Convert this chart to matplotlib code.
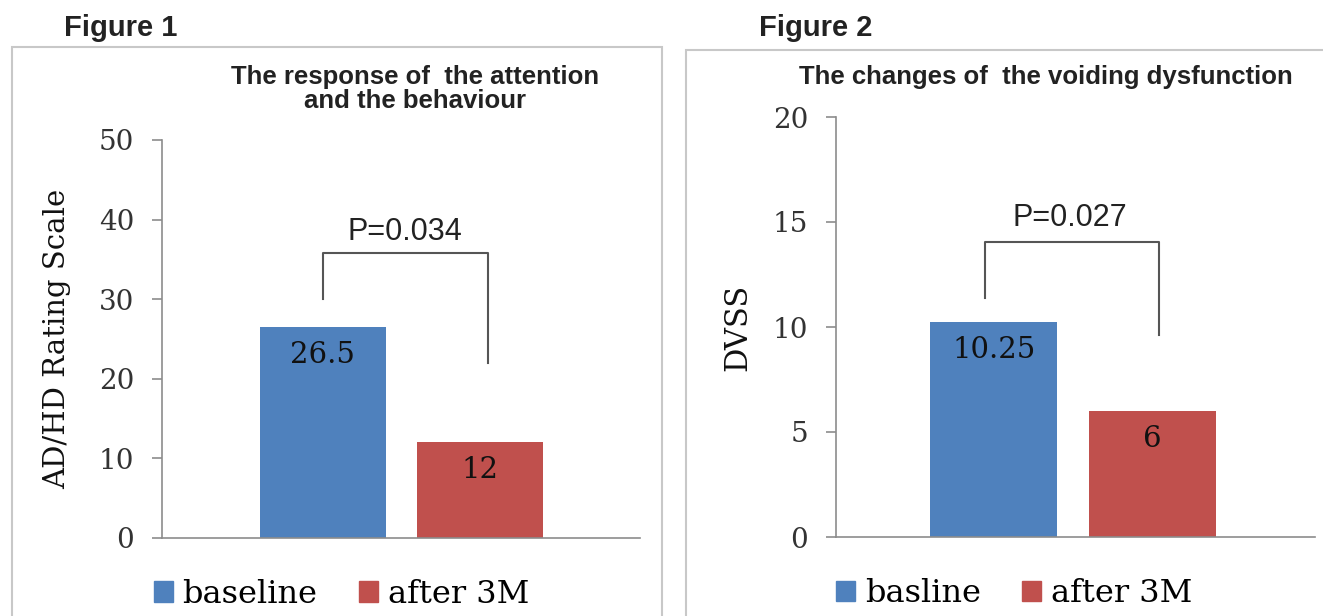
import matplotlib.pyplot as plt
from matplotlib.patches import Rectangle, Patch

# data
groups1 = ["baseline", "after 3M"]
values1 = [26.5, 12]
labels1 = ["26.5", "12"]
groups2 = ["basline", "after 3M"]
values2 = [10.25, 6]
labels2 = ["10.25", "6"]
p1 = "P=0.034"
p2 = "P=0.027"

blue = "#4f81bd"
red = "#c0504d"
gray = "#8c8c8c"
serif = "DejaVu Serif"
sans = "Liberation Sans"

fig = plt.figure(figsize=(13.23, 6.16), dpi=100)
W, H = 1323, 616


def fx(px):
    return px / W


def fy(py):
    return 1 - py / H


# panel frames
fig.patches.append(Rectangle((fx(12), fy(640)), fx(650), fy(47) - fy(640),
                             transform=fig.transFigure, fill=False,
                             edgecolor="#c8c8c8", lw=1.5))
fig.patches.append(Rectangle((fx(686), fy(640)), fx(660), fy(50) - fy(640),
                             transform=fig.transFigure, fill=False,
                             edgecolor="#c8c8c8", lw=1.5))

fig.text(fx(64), fy(28), "Figure 1", family=sans, weight="bold", fontsize=21,
         va="center", color="#222222")
fig.text(fx(759), fy(28), "Figure 2", family=sans, weight="bold", fontsize=21,
         va="center", color="#222222")


def panel(rect, values, labels, groups, ymax, step, xlim, ylabel, ylabel_x,
          ylabel_size, title, title_xy, bracket, ptxt, pxy, leg_x):
    ax = fig.add_axes(rect)
    bars = ax.bar([0, 1], values, width=0.8, color=[blue, red], zorder=2)
    ax.set_xlim(*xlim)
    ax.set_ylim(0, ymax)
    ax.set_yticks(range(0, ymax + 1, step))
    ax.set_xticks([])
    for s in ["top", "right"]:
        ax.spines[s].set_visible(False)
    for s in ["left", "bottom"]:
        ax.spines[s].set_color(gray)
        ax.spines[s].set_linewidth(1.2)
    ax.tick_params(axis="y", colors=gray, length=7, width=1.2, pad=13)
    for t in ax.get_yticklabels():
        t.set_color("#333333")
        t.set_family(serif)
        t.set_fontsize(20)
    for b, lab in zip(bars, labels):
        ax.annotate(lab, (b.get_x() + b.get_width() / 2, b.get_height()),
                    xytext=(0, -20), textcoords="offset points",
                    ha="center", va="center", family=serif, fontsize=21,
                    color="#111111")
    xl, xr, y_l, y_top, y_r = bracket
    ax.plot([xl, xl, xr, xr], [y_l, y_top, y_top, y_r], color="#555555",
            lw=1.5, zorder=3)
    ax.text(pxy[0], pxy[1], ptxt, ha="center", va="center", family=sans,
            fontsize=22, color="#222222")
    ax.set_ylabel(ylabel, family=serif, fontsize=ylabel_size, color="#111111")
    ax.yaxis.set_label_coords(ylabel_x, 0.5)
    fig.text(title_xy[0], title_xy[1], title, ha="center", va="center",
             family=sans, weight="bold", fontsize=18.5, color="#222222",
             linespacing=0.95)
    handles = [Patch(color=blue), Patch(color=red)]
    ax.legend(handles, groups, loc="upper center", ncol=2, frameon=False,
              bbox_to_anchor=(leg_x, -0.03), prop={"family": serif, "size": 23},
              handlelength=0.6, handleheight=0.6, handletextpad=0.3,
              columnspacing=1.3)
    return ax


panel([fx(162), fy(538), fx(478), fy(140) - fy(538)], values1, labels1,
      groups1, 50, 10, (-1.022, 2.016), "AD/HD Rating Scale", -0.19, 21,
      "The response of  the attention\nand the behaviour", (fx(415), fy(89)),
      (0.0, 1.05, 30, 35.75, 22), p1, (0.52, 38.4), 0.375)

panel([fx(836), fy(537), fx(479), fy(117) - fy(537)], values2, labels2,
      groups2, 20, 5, (-0.994, 2.025), "DVSS", -0.173, 22,
      "The changes of  the voiding dysfunction", (fx(1046), fy(77)),
      (-0.057, 1.044, 11.4, 14.05, 9.6), p2, (0.48, 15.2), 0.372)

fig.savefig("out.png", dpi=100)
